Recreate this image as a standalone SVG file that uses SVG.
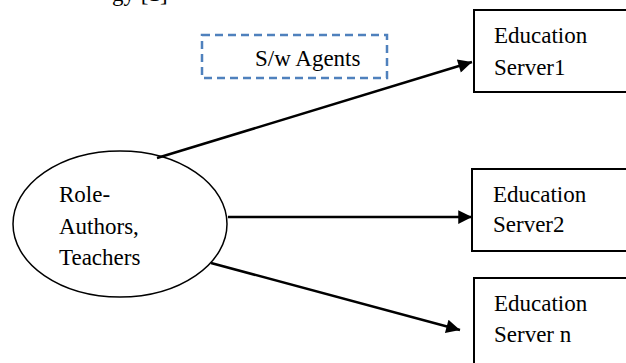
<svg xmlns="http://www.w3.org/2000/svg" width="626" height="363" viewBox="0 0 626 363">
<style>
.t{font-family:'Liberation Serif','Times New Roman','DejaVu Serif',serif;font-size:23px;fill:#000}
.box{fill:#fff;stroke:#000;stroke-width:2}
.conn{stroke:#000;stroke-width:2.5;fill:none}
</style>
<defs>
<marker id="ah" viewBox="0 0 10 10" refX="10" refY="5" markerWidth="7.5" markerHeight="5.5" orient="auto" markerUnits="strokeWidth">
<path d="M0,0 L10,5 L0,10 z" fill="#000"/>
</marker>
</defs>
<rect width="626" height="363" fill="#fff"/>
<text class="t" font-family="Liberation Serif, serif" x="112" y="1">gy [1]</text>
<g id="agents">
<rect x="202" y="35" width="185" height="43" fill="none" stroke="#4F81BD" stroke-width="2.5" stroke-dasharray="8,5"/>
<text class="t" font-family="Liberation Serif, serif" x="255" y="66">S/w Agents</text>
</g>
<g id="role">
<ellipse cx="120" cy="224" rx="107" ry="73" fill="#fff" stroke="#000" stroke-width="1.5"/>
<text class="t" font-family="Liberation Serif, serif" x="59" y="202">Role-</text>
<text class="t" font-family="Liberation Serif, serif" x="59" y="234">Authors,</text>
<text class="t" font-family="Liberation Serif, serif" x="59" y="265">Teachers</text>
</g>
<g id="server1">
<rect class="box" x="474" y="10" width="160" height="82"/>
<text class="t" font-family="Liberation Serif, serif" x="494" y="43">Education</text>
<text class="t" font-family="Liberation Serif, serif" x="494" y="75">Server1</text>
</g>
<g id="server2">
<rect class="box" x="472" y="169" width="162" height="82"/>
<text class="t" font-family="Liberation Serif, serif" x="493" y="202">Education</text>
<text class="t" font-family="Liberation Serif, serif" x="493" y="232">Server2</text>
</g>
<g id="servern">
<rect class="box" x="474" y="278" width="160" height="95"/>
<text class="t" font-family="Liberation Serif, serif" x="494" y="311">Education</text>
<text class="t" font-family="Liberation Serif, serif" x="494" y="342">Server n</text>
</g>
<g id="connectors">
<line class="conn" x1="157" y1="158" x2="472" y2="62" marker-end="url(#ah)"/>
<line class="conn" x1="228" y1="217" x2="472" y2="217" marker-end="url(#ah)"/>
<line class="conn" x1="211" y1="263" x2="460" y2="330" marker-end="url(#ah)"/>
</g>
</svg>
